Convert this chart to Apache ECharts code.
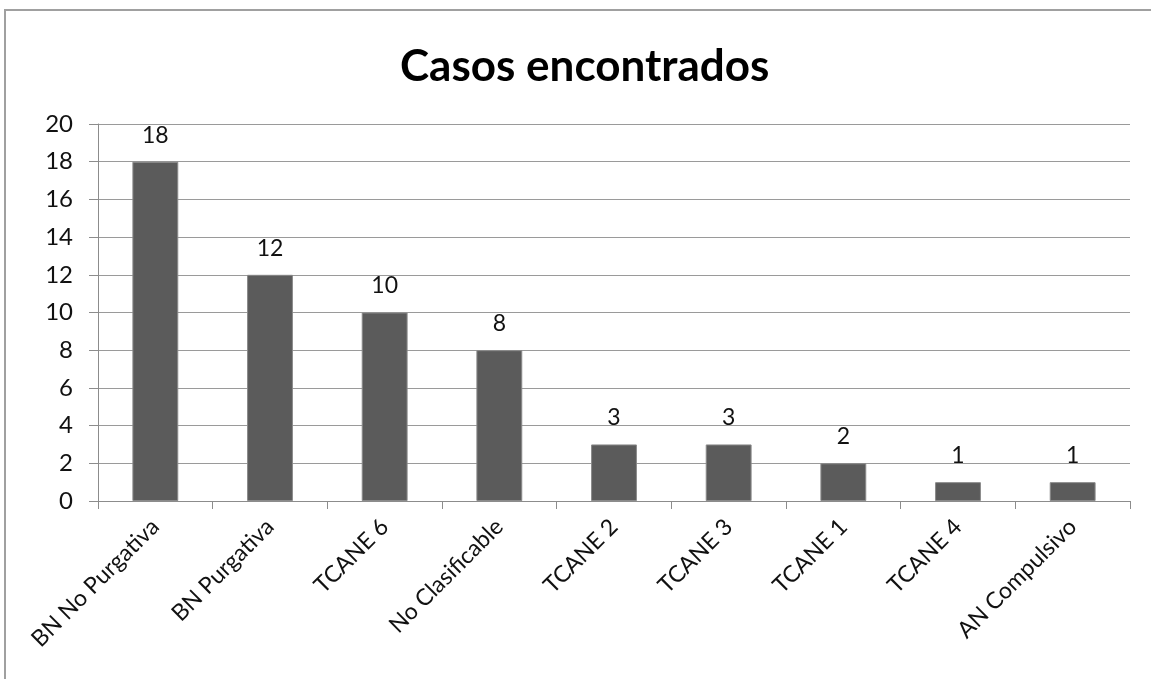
<!DOCTYPE html>
<html>
<head>
<meta charset="utf-8">
<script src="https://cdn.jsdelivr.net/npm/echarts@6/dist/echarts.min.js"></script>
<style>
  html, body { margin: 0; padding: 0; background: #fff; }
  #frame {
    position: absolute; left: 4px; top: 9px; width: 1160px; height: 690px;
    border-left: 2px solid #a0a0a0; border-top: 2px solid #a0a0a0;
  }
  #chart { position: absolute; left: 0; top: 0; width: 1151px; height: 679px; }
</style>
</head>
<body>
<div id="frame"></div>
<div id="chart"></div>
<script>
// categorias y casos
var categories = ["BN No Purgativa", "BN Purgativa", "TCANE 6", "No Clasificable",
  "TCANE 2", "TCANE 3", "TCANE 1", "TCANE 4", "AN Compulsivo"];
var casos = [18, 12, 10, 8, 3, 3, 2, 1, 1];

var font = "Lato, 'Open Sans', sans-serif";
var chart = echarts.init(document.getElementById("chart"));
chart.setOption({
  animation: false,
  title: {
    text: "Casos encontrados",
    left: 395,
    top: 40,
    textStyle: { fontFamily: font, fontSize: 44, fontWeight: "bold", color: "#000" }
  },
  grid: { left: 98, right: 21, top: 124, bottom: 178 },
  xAxis: {
    type: "category",
    data: categories,
    axisLine: { lineStyle: { color: "#8c8c8c", width: 1 } },
    axisTick: { show: true, length: 8, lineStyle: { color: "#8c8c8c" } },
    axisLabel: { rotate: 45, fontFamily: font, fontSize: 23, color: "#111", margin: 22 }
  },
  yAxis: {
    type: "value",
    min: 0, max: 20, interval: 2,
    axisLine: { show: true, lineStyle: { color: "#8c8c8c" } },
    axisTick: { show: true, length: 9, lineStyle: { color: "#8c8c8c" } },
    axisLabel: { fontFamily: font, fontSize: 24, color: "#111", margin: 25 },
    splitLine: { lineStyle: { color: "#9a9a9a", width: 1 } }
  },
  series: [{
    type: "bar",
    data: casos,
    barWidth: "40%",
    itemStyle: { color: "#5b5b5b", borderColor: "#8a8a8a", borderWidth: 1 },
    label: { show: true, position: "top", distance: 15, fontFamily: font, fontSize: 23, color: "#111" }
  }]
});
</script>
</body>
</html>
